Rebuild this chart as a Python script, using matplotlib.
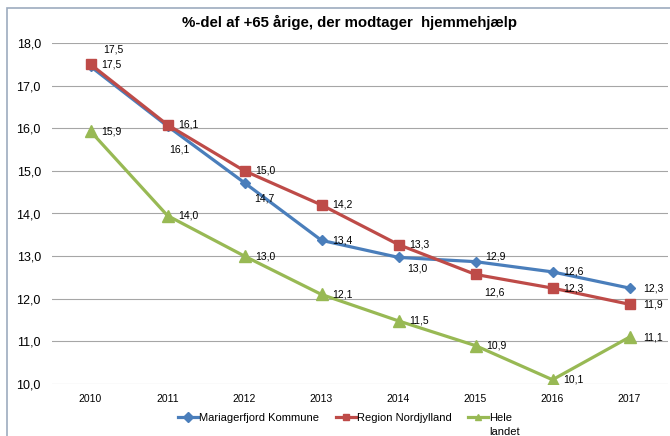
import matplotlib.pyplot as plt
from matplotlib.patches import Rectangle

plt.rcParams['font.family'] = ['Liberation Sans', 'DejaVu Sans']

years = ['2010', '2011', '2012', '2013', '2014', '2015', '2016', '2017']
mariager = [17.45, 16.05, 14.72, 13.37, 12.97, 12.87, 12.63, 12.25]
region = [17.5, 16.08, 15.0, 14.2, 13.27, 12.57, 12.25, 11.87]
hele = [15.93, 13.95, 13.0, 12.1, 11.48, 10.9, 10.1, 11.1]

mariager_lbl = ['17,5', '16,1', '14,7', '13,4', '13,0', '12,9', '12,6', '12,3']
region_lbl = ['17,5', '16,1', '15,0', '14,2', '13,3', '12,6', '12,3', '11,9']
hele_lbl = ['15,9', '14,0', '13,0', '12,1', '11,5', '10,9', '10,1', '11,1']

# label offsets (points) – most sit right of the marker, a few above/below
mariager_off = [(9, 12), (1.5, -17), (7, -11.5), (8, 0), (6, -8), (7, 4), (8, 0), (10, 0)]
region_off = [(8, 0), (8, 0), (8, 0), (8, 0), (8, 0), (6, -13), (8, 0), (10, 0)]
hele_off = [(8, 0)] * 7 + [(10, 0)]

BLUE = '#4A7EBB'
RED = '#BE4B48'
GREEN = '#98B954'

fig = plt.figure(figsize=(6.70, 4.36), dpi=100)
ax = fig.add_axes([52 / 670, 1 - 384 / 436, 616 / 670, 341 / 436])

x = list(range(len(years)))
series = [
    ('Mariagerfjord Kommune', mariager, mariager_lbl, mariager_off, BLUE, 'D', 5.5),
    ('Region Nordjylland', region, region_lbl, region_off, RED, 's', 7.5),
    ('Hele', hele, hele_lbl, hele_off, GREEN, '^', 8),
]
handles = []
for name, vals, lbls, offs, col, mk, ms in series:
    h, = ax.plot(x, vals, color=col, lw=2.3, marker=mk, ms=ms, label=name, zorder=3)
    handles.append(h)
    for xi, v, t, (dx, dy) in zip(x, vals, lbls, offs):
        ax.annotate(t, (xi, v), xytext=(dx, dy), textcoords='offset points',
                    ha='left', va='center', fontsize=7.5, color='black', zorder=4)

ax.set_xlim(-0.5, len(years) - 0.5)
ax.set_ylim(10, 18)
ax.set_yticks([10, 11, 12, 13, 14, 15, 16, 17, 18])
ax.set_yticklabels(['10,0', '11,0', '12,0', '13,0', '14,0', '15,0', '16,0', '17,0', '18,0'], fontsize=9)
ax.set_xticks(x)
ax.set_xticklabels(years, fontsize=7.5)
ax.tick_params(axis='both', length=0)
ax.tick_params(axis='y', pad=8)
ax.tick_params(axis='x', pad=7)
ax.grid(axis='y', color='#A6A6A6', lw=0.8)
ax.set_axisbelow(True)
for s in ax.spines.values():
    s.set_visible(False)

fig.text(349 / 670, 1 - 22 / 436, '%-del af +65 årige, der modtager  hjemmehjælp',
         ha='center', va='center', fontsize=10.8, fontweight='bold')

# chart area border (right and bottom edges are cut off in the original)
fig.patches.append(Rectangle((7 / 670, -0.1), 1.2, 1 - 8.5 / 436 + 0.1, transform=fig.transFigure,
                             fill=False, ec='#9DABBF', lw=1.2))

leg = fig.legend(handles=handles, loc='center', bbox_to_anchor=(345 / 670, 1 - 418 / 436),
                 ncol=3, frameon=False, fontsize=8, handlelength=1.8, handletextpad=0.1,
                 columnspacing=1.5, borderpad=0)
for lh in leg.legend_handles:
    lh.set_markersize(5)

fig.canvas.draw()
tb = leg.get_texts()[2].get_window_extent()
fig.text(tb.x0 / 670, (tb.y0 - 3.5) / 436, 'landet', ha='left', va='top', fontsize=8)

fig.savefig('out.png', dpi=100)
